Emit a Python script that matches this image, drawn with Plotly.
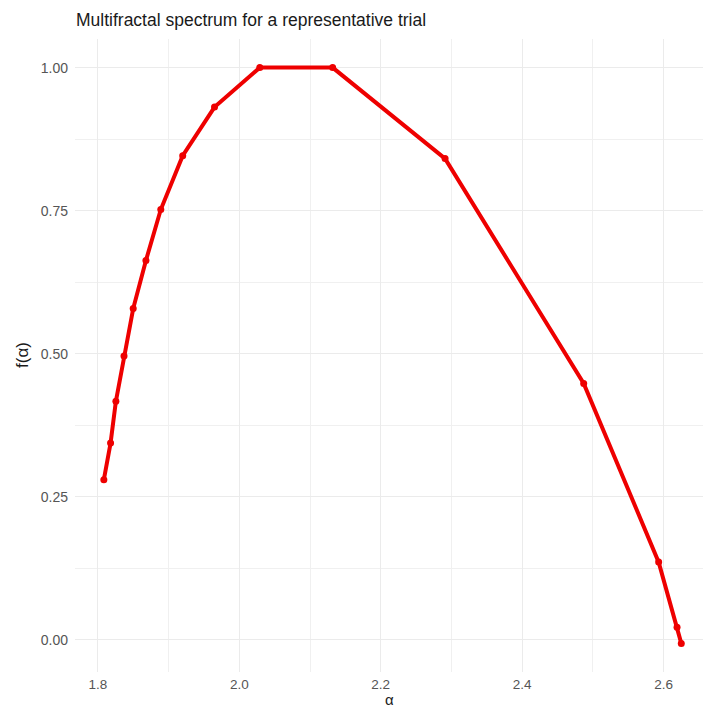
import plotly.graph_objects as go

alpha = [1.8085, 1.818, 1.8255, 1.837, 1.850, 1.868, 1.889, 1.920, 1.965,
         2.029, 2.132, 2.291, 2.487, 2.593, 2.619, 2.625]
f_alpha = [0.280, 0.344, 0.417, 0.496, 0.579, 0.663, 0.752, 0.846, 0.931,
           1.000, 1.000, 0.841, 0.448, 0.136, 0.022, -0.006]

title_text = "Multifractal spectrum for a representative trial"
x_label = "α"
y_label = "f(α)"

W, H = 703, 708
ML, MR, MT, MB = 75, 0, 39, 36
PW, PH = W - ML - MR, H - MT - MB
font_family = "Liberation Sans, Arial, sans-serif"

fig = go.Figure()
fig.add_trace(go.Scatter(
    x=alpha, y=f_alpha, mode="lines+markers",
    line=dict(color="#EE0000", width=4),
    marker=dict(color="#EE0000", size=7),
    showlegend=False,
))

grid_col = "#EBEBEB"
fig.update_layout(
    width=W, height=H,
    margin=dict(l=ML, r=MR, t=MT, b=MB),
    paper_bgcolor="white", plot_bgcolor="white",
    font=dict(family=font_family, color="#4D4D4D", size=14),
    title=dict(text=title_text, x=76 / W, xref="container", xanchor="left",
               y=1 - 20 / H, yref="container", yanchor="middle",
               font=dict(size=17.5, color="#1A1A1A", family=font_family)),
    xaxis=dict(range=[1.7677, 2.6557], tickvals=[1.8, 2.0, 2.2, 2.4, 2.6],
               tickformat=".1f", showgrid=True, gridcolor=grid_col, gridwidth=1,
               zeroline=False, showline=False, ticks="", ticklabelstandoff=2,
               tickfont=dict(size=13.5, color="#555555"),
               minor=dict(tickvals=[1.9, 2.1, 2.3, 2.5], showgrid=True,
                          gridcolor="#F0F0F0", gridwidth=1)),
    yaxis=dict(range=[-0.056, 1.05], tickvals=[0, 0.25, 0.5, 0.75, 1.0],
               tickformat=".2f", showgrid=True, gridcolor=grid_col, gridwidth=1,
               zeroline=False, showline=False, ticks="", ticklabelstandoff=6,
               tickfont=dict(size=14, color="#555555"),
               minor=dict(tickvals=[0.125, 0.375, 0.625, 0.875], showgrid=True,
                          gridcolor="#F0F0F0", gridwidth=1)),
    annotations=[
        dict(text=x_label, xref="paper", yref="paper", x=0.5,
             y=((H - 699) - MB) / PH,
             xanchor="center", yanchor="middle", showarrow=False,
             font=dict(size=15, color="#1A1A1A")),
        dict(text=y_label, xref="paper", yref="paper", x=(22 - ML) / PW,
             y=(H - 355 - MB) / PH,
             xanchor="center", yanchor="middle", showarrow=False, textangle=-90,
             font=dict(size=17, color="#1A1A1A")),
    ],
)

fig.write_html("out.html")
